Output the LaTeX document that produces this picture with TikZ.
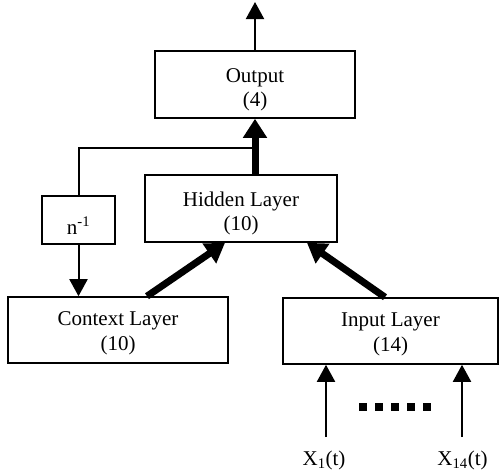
\documentclass[tikz,border=0pt]{standalone}
\usepackage{fontspec}
\setmainfont{Liberation Serif}
\usetikzlibrary{arrows.meta}
\newcommand\liftrule[1]{\rule{0pt}{#1pt}}
\begin{document}
\begin{tikzpicture}[x=1pt,y=-1pt,
  box/.style={draw,line width=1.6pt,align=center,inner sep=0pt,
    font=\fontsize{21}{24.5}\selectfont},
  thin/.style={line width=2pt,-{Triangle[width=18pt,length=17pt]}},
  thick/.style={line width=7pt,-{Triangle[width=23pt,length=19pt]}},
  lbl/.style={font=\fontsize{21}{24}\selectfont,inner sep=0pt,anchor=base}]
\useasboundingbox (0,0) rectangle (500,474);
\node[box,minimum width=200pt,minimum height=67pt] (output) at (255,84.5) {\liftrule{24.5}Output\\(4)};
\node[box,minimum width=192pt,minimum height=67pt] (hidden) at (241,208.5) {\liftrule{24.5}Hidden Layer\\(10)};
\node[box,minimum width=220pt,minimum height=66pt] (context) at (118,330) {\liftrule{20.5}Context Layer\\(10)};
\node[box,minimum width=215pt,minimum height=66pt] (input) at (390.5,331) {\liftrule{20.5}Input Layer\\(14)};
\node[box,minimum width=73pt,minimum height=48pt] (delay) at (78.5,220) {\liftrule{28}n\textsuperscript{-1}};
\coordinate (top) at (255,2);
\coordinate (fb) at (255,148);
\coordinate (xa) at (326,437);
\coordinate (xb) at (462,437);
\node[lbl] (la) at (324,465) {X\textsubscript{1}(t)};
\node[lbl] (lb) at (462.5,465) {X\textsubscript{14}(t)};
% connectors
\draw[thin] (output.north) -- (top);
\draw[thick] (hidden.north -| output.south) -- (output.south);
\draw[line width=2pt] (fb) -| (delay.north);
\draw[thin] (delay.south) -- (delay.south |- context.north);
\draw[thick] ([xshift=29pt]context.north) -- ([xshift=-16pt]hidden.south);
\draw[thick] ([xshift=-5.5pt]input.north) -- ([xshift=66pt]hidden.south);
\draw[thin] (xa) -- (xa |- input.south);
\draw[thin] (xb) -- (xb |- input.south);
\foreach \i in {0,...,4}
  \fill ({359+16*\i},403) rectangle ++(8,8);
\end{tikzpicture}
\end{document}
